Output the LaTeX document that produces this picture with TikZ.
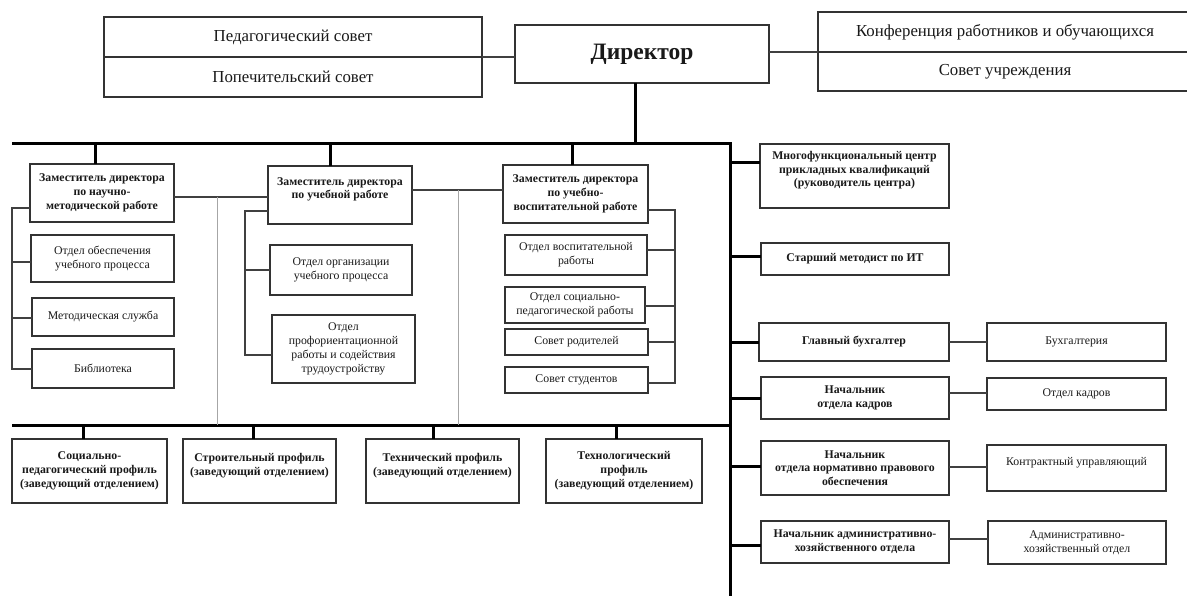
\documentclass[tikz,border=0pt]{standalone}
\usepackage{fontspec}
\setmainfont{Liberation Serif}
\newcommand\topfnt{\fontsize{16.8}{19}\selectfont}
\newcommand\dirfnt{\fontsize{23.5}{26}\selectfont\bfseries}
\newcommand\smfnt{\fontsize{11.8}{13.8}\selectfont}
\newcommand\smbfnt{\fontsize{11.8}{13.8}\selectfont\bfseries}
\newcommand\bx[7]{\node[box,#7,minimum width={(#4)-(#2)},minimum height={(#5)-(#3)}] (#1) at ({((#2)+(#4))/2},{((#3)+(#5))/2}) {#6};}
\tikzset{
  box/.style={draw=black!80, line width=1.3pt, inner sep=1pt, outer sep=0pt, align=center, text=black!90},
  topf/.style={font=\topfnt},
  dirf/.style={font=\dirfnt},
  sb/.style={font=\smbfnt},
  sr/.style={font=\smfnt},
  thk/.style={line width=3pt, black},
  ln/.style={line width=1.3pt, black!75},
  lnl/.style={line width=1pt, black!35},
}
\begin{document}
\begin{tikzpicture}[x=1pt,y=-1pt]
\useasboundingbox (0,0) rectangle (1187,596);
\fill[white] (0,0) rectangle (1187,596);
% top level
\bx{ped}{104}{17}{482}{57}{Педагогический совет}{topf}
\bx{pop}{104}{57}{482}{97}{Попечительский совет}{topf}
\bx{dir}{515}{25}{769}{83}{Директор}{dirf}
\bx{konf}{818}{12}{1192}{52}{Конференция работников и обучающихся}{topf}
\bx{sov}{818}{52}{1192}{91}{Совет учреждения}{topf}
\draw[ln] (pop.north east) -- (pop.north east -| dir.west);
\draw[ln] (sov.north west) -- (sov.north west -| dir.east);
% buses
\coordinate (dv) at (635,144);
\coordinate (busL) at (12,144);
\coordinate (busR) at (730,144);
\coordinate (spineEnd) at (730,600);
\coordinate (botL) at (12,425);
\coordinate (botR) at (730,425);
\draw[thk] (dv |- dir.south) -- (dv);
\draw[thk, line join=miter] (busL) -- (busR) -- (spineEnd);
\draw[thk] (botL) -- (botR);
% column 1
\bx{zd1}{30}{164}{174}{222}{Заместитель директора\\по научно-\\методической работе}{sb}
\bx{oo}{31}{235}{174}{282}{Отдел обеспечения\\учебного процесса}{sr}
\bx{ms}{32}{298}{174}{336}{Методическая служба}{sr}
\bx{lib}{32}{349}{174}{388}{Библиотека}{sr}
\coordinate (s1) at (95,144);
\draw[thk] (s1) -- (s1 |- zd1.north);
\coordinate (c1a) at (12,208);
\coordinate (c1b) at (12,262);
\coordinate (c1c) at (12,318);
\coordinate (c1d) at (12,369);
\draw[ln] (c1a -| zd1.west) -- (c1a) -- (c1d) -- (c1d -| lib.west);
\draw[ln] (c1b) -- (c1b -| oo.west);
\draw[ln] (c1c) -- (c1c -| ms.west);
% column 2
\bx{zd2}{268}{166}{412}{224}{Заместитель директора\\по учебной работе\\ \mbox{}}{sb}
\bx{org}{270}{245}{412}{295}{Отдел организации\\учебного процесса}{sr}
\bx{prof}{272}{315}{415}{383}{Отдел\\профориентационной\\работы и содействия\\трудоустройству}{sr}
\coordinate (s2) at (330,144);
\draw[thk] (s2) -- (s2 |- zd2.north);
\coordinate (c2a) at (245,211);
\coordinate (c2b) at (245,270);
\coordinate (c2c) at (245,355);
\draw[ln] (c2a -| zd2.west) -- (c2a) -- (c2c) -- (c2c -| prof.west);
\draw[ln] (c2b) -- (c2b -| org.west);
% column 3
\bx{zd3}{503}{165}{648}{223}{Заместитель директора\\по учебно-\\воспитательной работе}{sb}
\bx{ov}{505}{235}{647}{275}{Отдел воспитательной\\работы}{sr}
\bx{osp}{505}{287}{645}{323}{Отдел социально-\\педагогической работы}{sr}
\bx{srod}{505}{329}{648}{355}{Совет родителей}{sr}
\bx{sstud}{505}{367}{648}{393}{Совет студентов}{sr}
\coordinate (s3) at (572,144);
\draw[thk] (s3) -- (s3 |- zd3.north);
\coordinate (c3a) at (675,210);
\coordinate (c3b) at (675,250);
\coordinate (c3c) at (675,306);
\coordinate (c3d) at (675,342);
\coordinate (c3e) at (675,383);
\draw[ln] (c3a -| zd3.east) -- (c3a) -- (c3e) -- (c3e -| sstud.east);
\draw[ln] (c3b) -- (c3b -| ov.east);
\draw[ln] (c3c) -- (c3c -| osp.east);
\draw[ln] (c3d) -- (c3d -| srod.east);
% cross links
\coordinate (k1) at (217,197);
\draw[ln] (k1 -| zd1.east) -- (k1 -| zd2.west);
\draw[lnl] (k1) -- (k1 |- botL);
\coordinate (k2) at (458,190);
\draw[ln] (k2 -| zd2.east) -- (k2 -| zd3.west);
\draw[lnl] (k2) -- (k2 |- botL);
% profiles
\bx{p1}{12}{439}{167}{503}{Социально-\\педагогический профиль\\(заведующий отделением)}{sb}
\bx{p2}{183}{439}{336}{503}{Строительный профиль\\(заведующий отделением)\\ \mbox{}}{sb}
\bx{p3}{366}{439}{519}{503}{Технический профиль\\(заведующий отделением)\\ \mbox{}}{sb}
\bx{p4}{546}{439}{702}{503}{Технологический\\профиль\\(заведующий отделением)}{sb}
\coordinate (b1) at (83,425);
\coordinate (b2) at (253,425);
\coordinate (b3) at (433,425);
\coordinate (b4) at (616,425);
\draw[thk] (b1) -- (b1 |- p1.north);
\draw[thk] (b2) -- (b2 |- p2.north);
\draw[thk] (b3) -- (b3 |- p3.north);
\draw[thk] (b4) -- (b4 |- p4.north);
% right side
\bx{mfc}{760}{144}{949}{208}{Многофункциональный центр\\прикладных квалификаций\\(руководитель центра)\\ \mbox{}}{sb}
\bx{smet}{761}{243}{949}{275}{Старший методист по ИТ}{sb}
\bx{gb}{759}{323}{949}{361}{Главный бухгалтер}{sb}
\bx{buh}{987}{323}{1166}{361}{Бухгалтерия}{sr}
\bx{nok}{761}{377}{949}{419}{Начальник\\отдела кадров}{sb}
\bx{ok}{987}{378}{1166}{410}{Отдел кадров}{sr}
\bx{nnp}{761}{441}{949}{495}{Начальник\\отдела нормативно правового\\обеспечения}{sb}
\bx{ku}{987}{445}{1166}{491}{Контрактный управляющий\\ \mbox{}}{sr}
\bx{nax}{761}{521}{949}{563}{Начальник административно-\\хозяйственного отдела}{sb}
\bx{ax}{988}{521}{1166}{564}{Административно-\\хозяйственный отдел}{sr}
\coordinate (r1) at (730,163);
\coordinate (r2) at (730,257);
\coordinate (r3) at (730,342);
\coordinate (r4) at (730,398);
\coordinate (r5) at (730,466);
\coordinate (r6) at (730,545);
\draw[thk] (r1) -- (r1 -| mfc.west);
\draw[thk] (r2) -- (r2 -| smet.west);
\draw[thk] (r3) -- (r3 -| gb.west);
\draw[thk] (r4) -- (r4 -| nok.west);
\draw[thk] (r5) -- (r5 -| nnp.west);
\draw[thk] (r6) -- (r6 -| nax.west);
\coordinate (q1) at (968,342);
\coordinate (q2) at (968,393);
\coordinate (q3) at (968,467);
\coordinate (q4) at (968,539);
\draw[ln] (q1 -| gb.east) -- (q1 -| buh.west);
\draw[ln] (q2 -| nok.east) -- (q2 -| ok.west);
\draw[ln] (q3 -| nnp.east) -- (q3 -| ku.west);
\draw[ln] (q4 -| nax.east) -- (q4 -| ax.west);
\end{tikzpicture}
\end{document}
